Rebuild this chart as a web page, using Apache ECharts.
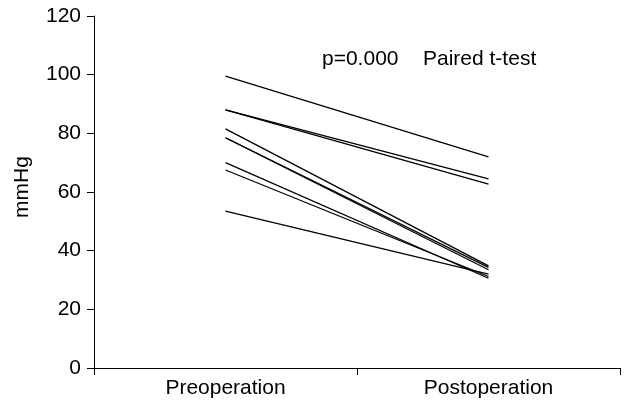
<!DOCTYPE html>
<html>
<head>
<meta charset="utf-8">
<script src="https://cdn.jsdelivr.net/npm/echarts@6/dist/echarts.min.js"></script>
<style>
  html, body { margin: 0; padding: 0; background: #fff; }
  #chart { width: 627px; height: 403px; }
</style>
</head>
<body>
<div id="chart"></div>
<script>
const categories = ['Preoperation', 'Postoperation'];
// one patient per index
const preValues = [99.5, 88, 88, 81.5, 78.5, 78.5, 70, 67.5, 53.5];
const postValues = [72, 64.5, 62.7, 34.8, 34.3, 33.5, 30.6, 31.2, 32];
const yTicks = { min: 0, max: 120, interval: 20 };
const pText = 'p=0.000';
const testText = 'Paired t-test';

document.addEventListener('DOMContentLoaded', () => {
  const chart = echarts.init(document.getElementById('chart'));
  const font = 'Liberation Sans, Arial, sans-serif';

  const series = preValues.map((pre, i) => ({
    type: 'line',
    data: [pre, postValues[i]],
    symbol: 'none',
    silent: true,
    lineStyle: { color: '#000', width: 1.3 },
  }));

  chart.setOption({
    animation: false,
    grid: { left: 94, right: 7, top: 16, bottom: 35 },
    xAxis: {
      type: 'category',
      data: categories,
      boundaryGap: true,
      axisLine: { lineStyle: { color: '#000', width: 1 } },
      axisTick: { show: true, length: 7, lineStyle: { color: '#000' } },
      axisLabel: { color: '#000', fontSize: 21, fontFamily: font, margin: 10 },
    },
    yAxis: {
      type: 'value',
      min: yTicks.min,
      max: yTicks.max,
      interval: yTicks.interval,
      name: 'mmHg',
      nameLocation: 'middle',
      nameRotate: 90,
      nameGap: 61,
      nameTextStyle: { color: '#000', fontSize: 21, fontFamily: font, padding: [0, 0, 0, 10] },
      splitLine: { show: false },
      axisLine: { show: true, lineStyle: { color: '#000', width: 1 } },
      axisTick: { show: true, length: 7, lineStyle: { color: '#000' } },
      axisLabel: { color: '#000', fontSize: 21, fontFamily: font, margin: 13 },
    },
    graphic: [
      {
        type: 'text',
        left: 322,
        top: 49,
        style: { text: pText, fill: '#000', font: '21px ' + font },
      },
      {
        type: 'text',
        left: 423,
        top: 49,
        style: { text: testText, fill: '#000', font: '21px ' + font },
      },
    ],
    series: series,
  });
});
</script>
</body>
</html>
